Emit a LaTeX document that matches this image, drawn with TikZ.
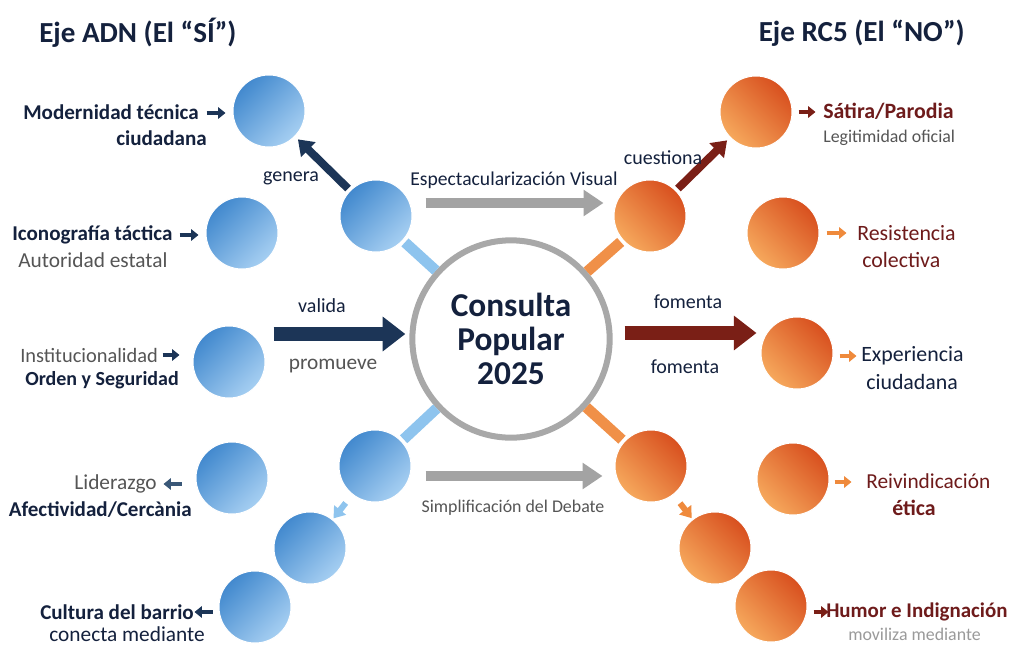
\documentclass[tikz,border=0pt]{standalone}
\usepackage{fontspec}
\setmainfont{Carlito}
\usetikzlibrary{arrows.meta,calc}
\definecolor{navy}{HTML}{14213D}
\definecolor{navyA}{HTML}{1C3557}
\definecolor{slateA}{HTML}{3A5878}
\definecolor{txtgray}{HTML}{555555}
\definecolor{ltgray}{HTML}{9A9A9A}
\definecolor{dred}{HTML}{6E1B1B}
\definecolor{dredA}{HTML}{7A1F16}
\definecolor{blueD}{HTML}{4289CE}
\definecolor{blueL}{HTML}{A6CFF2}
\definecolor{orD}{HTML}{D8501F}
\definecolor{orL}{HTML}{F6A85C}
\definecolor{bconnC}{HTML}{8EC4EE}
\definecolor{oconnC}{HTML}{F09048}
\definecolor{orA}{HTML}{EF8A3C}
\definecolor{grayA}{HTML}{A3A3A3}
\definecolor{ringC}{HTML}{A8A8A8}
\tikzset{
  bball/.style={circle,minimum size=54pt,inner sep=0pt,shading=axis,top color=blueD,bottom color=blueL,shading angle=45,draw=white,line width=0.75pt},
  oball/.style={circle,minimum size=54pt,inner sep=0pt,shading=axis,top color=orD,bottom color=orL,shading angle=-45,draw=white,line width=0.75pt},
  ring/.style={circle,minimum size=148pt,inner sep=0pt,draw=ringC,line width=4.5pt,fill=white},
  bconn/.style={draw=bconnC,line width=8pt},
  oconn/.style={draw=oconnC,line width=8pt},
  garrow/.style={draw=grayA,line width=7.5pt,-{Triangle[length=15pt,width=19pt]}},
  bigarrow/.style={line width=10.5pt,-{Triangle[length=17pt,width=25pt]}},
  midarrow/.style={line width=6pt,-{Triangle[length=11pt,width=15pt]}},
  smallarrow/.style={line width=4.5pt,-{Triangle[length=8pt,width=11pt]}},
  tagarrow/.style={line width=3.6pt,-{Triangle[length=5.5pt,width=8.5pt]}},
  lab/.style={inner sep=0pt,font=\fontsize{15}{17}\selectfont},
  lbl/.style={inner sep=0pt,font=\fontsize{16}{18}\selectfont},
  labb/.style={inner sep=0pt,font=\fontsize{15.8}{18}\selectfont\bfseries},
  rlab/.style={inner sep=0pt,font=\fontsize{16.4}{18}\selectfont},
  rlabb/.style={inner sep=0pt,font=\fontsize{16.4}{18}\selectfont\bfseries},
  small/.style={inner sep=0pt,font=\fontsize{13.4}{15}\selectfont},
  title/.style={inner sep=0pt,font=\fontsize{21.8}{24}\selectfont\bfseries,text=navy},
}
\begin{document}
\begin{tikzpicture}[x=0.75pt,y=-0.75pt]
\useasboundingbox (0,0) rectangle (1013,646);
\fill[white] (0,0) rectangle (1013,646);
% center
\node[ring,align=center,text=navy,font=\fontsize{25}{25.5}\selectfont\bfseries] (cc) at (511,339) {Consulta\\Popular\\2025};
% balls
\node[bball] (b1) at (269,111) {};
\node[bball] (b2) at (242,233) {};
\node[bball] (bh1) at (376,216) {};
\node[bball] (b3) at (229,362) {};
\node[bball] (b4) at (232,478) {};
\node[bball] (bh2) at (375,466) {};
\node[bball] (b5) at (310,548) {};
\node[bball] (b6) at (255,607) {};
\node[oball] (o1) at (756,112) {};
\node[oball] (oh1) at (650,216) {};
\node[oball] (o2) at (783,233) {};
\node[oball] (o3) at (797,353) {};
\node[oball] (oh2) at (651,466) {};
\node[oball] (o4) at (793,479) {};
\node[oball] (o5) at (715,548) {};
\node[oball] (o6) at (771,606) {};
% hub connectors
\draw[bconn,shorten <=2pt] (bh1) -- (cc);
\draw[bconn,shorten <=2pt] (bh2) -- (cc);
\draw[oconn,shorten <=2pt] (oh1) -- (cc);
\draw[oconn,shorten <=2pt] (oh2) -- (cc);
% arrows
\draw[midarrow,draw=navyA,shorten <=2pt,shorten >=3pt] (bh1) -- (b1);
\draw[midarrow,draw=dredA,shorten <=2pt,shorten >=3pt] (oh1) -- (o1);
\draw[garrow] ([shift={(13,-13)}]bh1.east) -- ([shift={(-10,-13)}]oh1.west);
\draw[garrow] ([shift={(14,10)}]bh2.east) -- ([shift={(-12,10)}]oh2.west);
\draw[bigarrow,draw=navyA] ([shift={(8,-28)}]b3.east) -- ([shift={(-4,-5)}]cc.west);
\draw[bigarrow,draw=dredA] ([shift={(12,-6)}]cc.east) -- ([shift={(-4,-20)}]o3.west);
\draw[smallarrow,draw=bconnC,shorten <=8pt,shorten >=1pt] (bh2) -- (b5);
\draw[smallarrow,draw=orA,shorten <=8pt,shorten >=1pt] (oh2) -- (o5);
% arrow labels
\node[lab,text=navy] (lgen) at (291,178) {genera};
\node[inner sep=0pt,font=\fontsize{14.7}{17}\selectfont,text=navy] (lesp) at (514,180) {Espectacularización Visual};
\node[lab,text=navy] (lcue) at (663,158) {cuestiona};
\node[lab,text=navy] (lval) at (322,306) {valida};
\node[lbl,text=txtgray] (lpro) at (333,366) {promueve};
\node[lab,text=navy] (lfo1) at (688,302) {fomenta};
\node[lab,text=navy] (lfo2) at (685,367) {fomenta};
\node[small,text=txtgray] (lsim) at (513,508) {Simplificación del Debate};
% titles
\node[title,anchor=west] (tl) at (39,33) {Eje ADN (El “SÍ”)};
\node[title,anchor=east] (tr) at (965,33) {Eje RC5 (El “NO”)};
% left labels
\node[labb,text=navy,anchor=east] (l1a) at (199,112) {Modernidad técnica};
\node[labb,text=navy,anchor=east] (l1b) at (207,138) {ciudadana};
\draw[tagarrow,draw=navyA] ([shift={(-26,2)}]b1.west) -- ++(19,0);
\node[labb,text=navy,anchor=west] (l2a) at (12,235) {Iconografía táctica};
\node[lbl,text=txtgray,anchor=west] (l2b) at (18,260) {Autoridad estatal};
\draw[tagarrow,draw=navyA] ([shift={(-26,2)}]b2.west) -- ++(19,0);
\node[inner sep=0pt,font=\fontsize{15.3}{17}\selectfont,text=txtgray,anchor=west] (l3a) at (20,355) {Institucionalidad};
\node[inner sep=0pt,font=\fontsize{15}{17}\selectfont\bfseries,text=navy,anchor=west] (l3b) at (25,380) {Orden y Seguridad};
\draw[tagarrow,draw=navyA] ([shift={(-30,-7)}]b3.west) -- ++(17,0);
\node[lbl,text=txtgray,anchor=east] (l4a) at (157,484) {Liderazgo};
\node[labb,text=navy,anchor=east] (l4b) at (192,510) {Afectividad/Cercània};
\draw[tagarrow,draw=slateA] ([shift={(-14,6)}]b4.west) -- ++(-18,0);
\node[labb,text=navy,anchor=east] (l6a) at (194,612) {Cultura del barrio};
\node[lbl,text=navy,anchor=east] (l6b) at (205,634) {conecta mediante};
\draw[tagarrow,draw=navyA] ([shift={(-6,5)}]b6.west) -- ++(-18,0);
% right labels
\draw[tagarrow,draw=dredA] ([shift={(6,0)}]o1.east) -- ++(17,0);
\node[rlabb,text=dred,anchor=west] (r1a) at (823,111) {Sátira/Parodia};
\node[small,text=txtgray,anchor=west] (r1b) at (823,138) {Legitimidad oficial};
\draw[tagarrow,draw=orA] ([shift={(7,0)}]o2.east) -- ++(20,0);
\node[rlab,text=dred,anchor=west] (r2a) at (857,233) {Resistencia};
\node[rlab,text=dred,anchor=west] (r2b) at (862,260) {colectiva};
\draw[tagarrow,draw=orA] ([shift={(6,3)}]o3.east) -- ++(17,0);
\node[rlab,text=navy,anchor=west] (r3a) at (861,356) {Experiencia};
\node[rlab,text=navy,anchor=west] (r3b) at (866,382) {ciudadana};
\draw[tagarrow,draw=orA] ([shift={(5,3)}]o4.east) -- ++(17,0);
\node[lbl,text=dred,anchor=west] (r4a) at (866,481) {Reivindicación};
\node[rlabb,text=dred,anchor=west] (r4b) at (892,508) {ética};
\draw[tagarrow,draw=dredA] ([shift={(6,6)}]o6.east) -- ++(15,0);
\node[inner sep=0pt,font=\fontsize{15.7}{18}\selectfont\bfseries,text=dred,anchor=west] (r6a) at (826,612) {Humor e Indignación};
\node[small,text=ltgray,anchor=west] (r6b) at (848,634) {moviliza mediante};
\end{tikzpicture}
\end{document}
